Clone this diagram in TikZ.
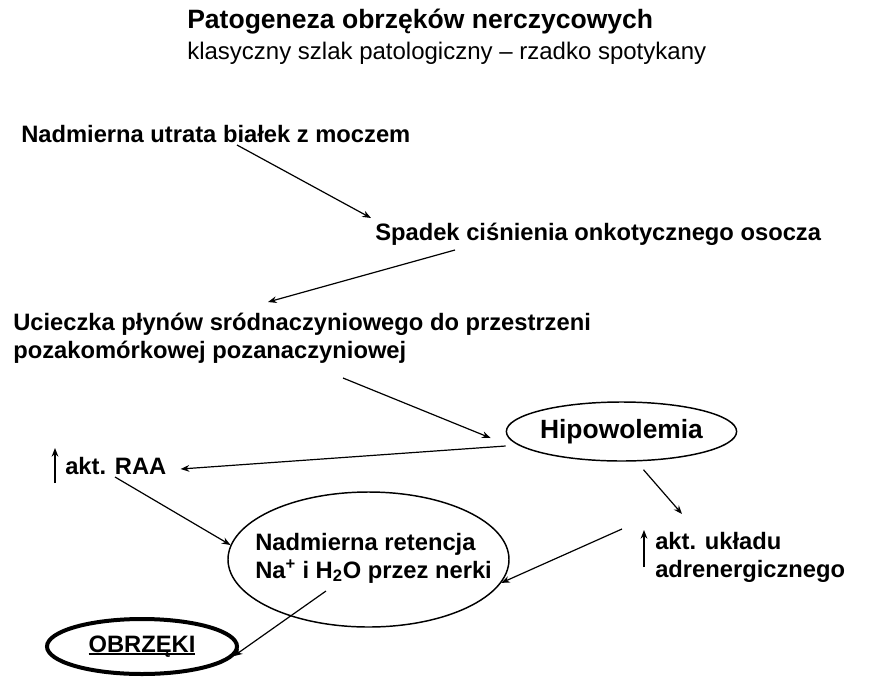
\documentclass[tikz,border=0pt]{standalone}
\usepackage{fontspec}
\setmainfont{Liberation Sans}
\usetikzlibrary{arrows.meta,calc,shapes.geometric}
\newlength\ulwd
\newcommand\ulword[1]{\settowidth\ulwd{#1}\rlap{\rule[-2pt]{\ulwd}{1.2pt}}#1}

\begin{document}
\begin{tikzpicture}[x=0.75pt,y=-0.75pt,
    txt/.style={inner sep=0,anchor=base west,align=left,font=\fontsize{17.8pt}{20.5pt}\selectfont\bfseries},
    oval/.style={draw,ellipse,line width=1.1pt,inner sep=0},
    arr/.style={line width=0.9pt,-{Stealth[length=6.5pt,width=5pt]}}]
  \useasboundingbox (0,0) rectangle (872,683);
  % title
  \node [inner sep=0,anchor=base west,font=\fontsize{19.9pt}{20pt}\selectfont\bfseries] (title) at (187,28) {Patogeneza obrzęków nerczycowych};
  \node [inner sep=0,anchor=base west,font=\fontsize{18pt}{20pt}\selectfont] (subtitle) at (187,59) {klasyczny szlak patologiczny – rzadko spotykany};
  % chain at the top (base = last line)
  \node [txt] (n1) at (21,142) {Nadmierna utrata białek z moczem};
  \node [txt] (n2) at (375,240) {Spadek ciśnienia onkotycznego osocza};
  \node [txt] (n3) at (13,358) {Ucieczka płynów sródnaczyniowego do przestrzeni\\pozakomórkowej pozanaczyniowej};
  % Hipowolemia oval
  \node [oval,minimum width=170pt,minimum height=44.25pt,font=\fontsize{19.8pt}{20pt}\selectfont\bfseries] (hip) at (621.5,431.5) {Hipowolemia};
  % left and right branches
  \node [txt] (raa) at (65,474) {akt. RAA};
  \node [txt] (adren) at (655,577) {akt. układu\\adrenergicznego};
  % kidney oval
  \node [oval,minimum width=210.75pt,minimum height=101.25pt] (ret) at (368.5,559.5) {};
  \node [txt] (rettxt) at (255,578) {Nadmierna retencja\\Na\textsuperscript{+} i H\textsubscript{2}O przez nerki};
  % OBRZEKI oval
  \node [oval,line width=3pt,minimum width=142.5pt,minimum height=41.25pt,font=\fontsize{17.8pt}{20pt}\selectfont\bfseries] (obr) at (142,646.5) {\ulword{OBRZĘKI}};
  % up arrows
  \draw [arr] ($(raa.base west)+(-10,9)$) -- ($(raa.base west)+(-10,-26)$);
  \draw [arr] ($(adren.base west)+(-11,-10)$) -- ($(adren.base west)+(-11,-47)$);
  % connectors
  \draw [arr] ($(n1.base west)+(216,3)$) -- ($(n2.base west)+(-4,-22)$);
  \draw [arr] ($(n2.base west)+(80,10)$) -- ($(n3.base west)+(255,-56)$);
  \draw [arr] ($(n3.base west)+(330,20)$) -- ($(hip.west)+(-15,6.5)$);
  \draw [arr] ($(hip.west)+(0,14.5)$) -- ($(raa.base east)+(14,-5)$);
  \draw [arr] ($(raa.base west)+(50,3)$) -- (ret.174);
  \draw [arr] ($(hip.south)+(22,8)$) -- ($(adren.base west)+(27,-63)$);
  \draw [arr] ($(adren.base west)+(-33,-48)$) -- (ret.-10);
  \draw [arr] ($(ret.center)+(-42.5,31.5)$) -- (obr.-6);
\end{tikzpicture}
\end{document}
